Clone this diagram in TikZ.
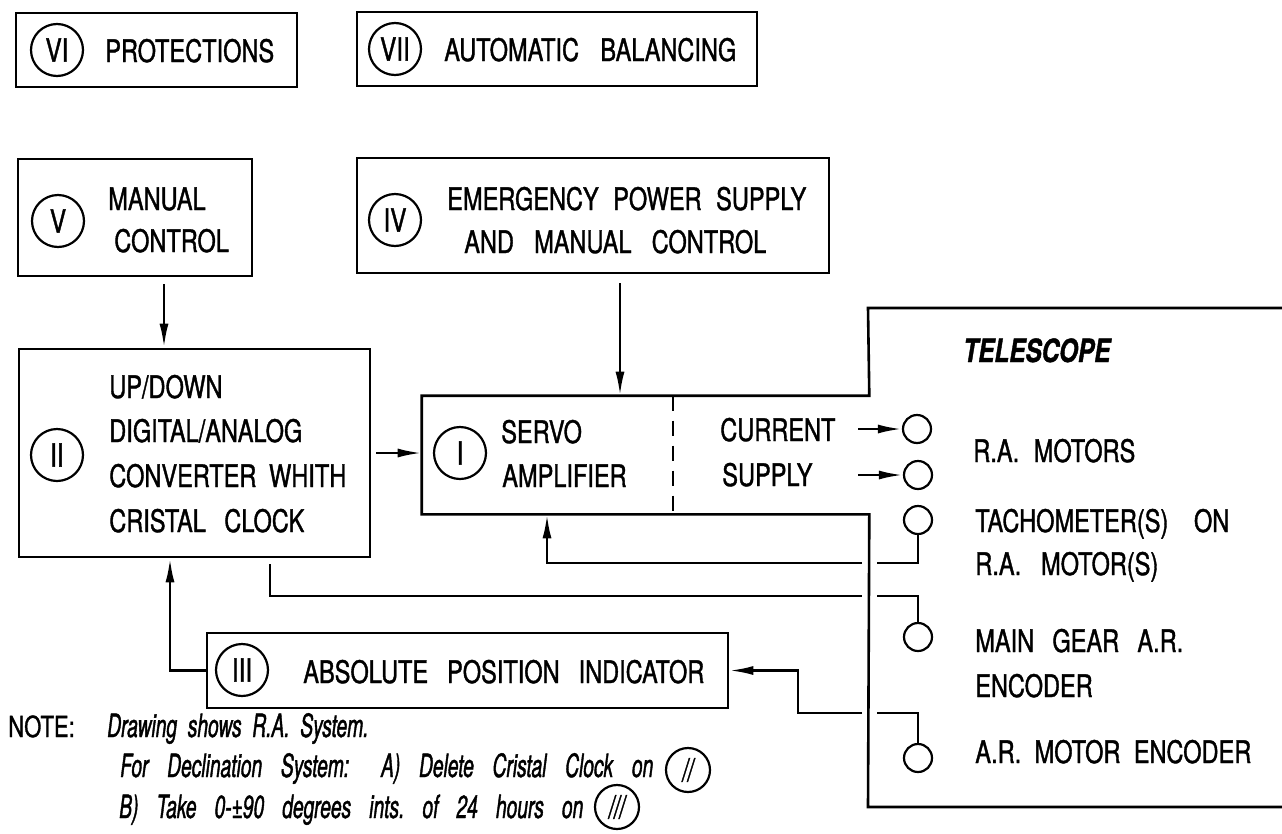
\documentclass[tikz,border=0pt]{standalone}
\usepackage{fontspec}
\setmainfont{TeX Gyre Heros}[FakeStretch=0.76,WordSpace=2.2,FakeBold=1.2]
\newfontfamily\notefont{TeX Gyre Heros}[FakeStretch=0.6,WordSpace=2.0,FakeBold=1.2]
\usetikzlibrary{arrows.meta,calc}
\frenchspacing
\begin{document}
\begin{tikzpicture}[x=1pt,y=-1pt,line width=2.6pt,
  box/.style={draw,line width=2.6pt,inner sep=0pt},
  ghost/.style={inner sep=0pt},
  numc/.style={draw,circle,minimum size=52pt,inner sep=0pt,line width=2.2pt,font=\fontsize{32}{34}\selectfont},
  notec/.style={draw,circle,minimum size=44pt,inner sep=0pt,line width=2.2pt,font=\fontsize{32}{34}\notefont\itshape},
  lbl/.style={anchor=base west,inner sep=0pt,font=\fontsize{31}{34}\selectfont},
  nlbl/.style={anchor=base west,inner sep=0pt,font=\fontsize{32}{34}\notefont\itshape},
  sc/.style={draw,circle,minimum size=28pt,inner sep=0pt,line width=2.2pt},
  arr/.style={-{Latex[length=24pt,width=9pt]}},
  wire/.style={line width=2.6pt},
  dashsep/.style={line width=2.4pt,dash pattern=on 15pt off 10pt}]
\useasboundingbox (0,0) rectangle (1282,833);

% ---- boxes
\node[box,minimum width=281pt,minimum height=74pt] (b6) at (156.5,50) {};
\node[box,minimum width=400pt,minimum height=74pt] (b7) at (557,49) {};
\node[box,minimum width=234pt,minimum height=117pt] (b5) at (135,217.5) {};
\node[box,minimum width=472pt,minimum height=115pt] (b4) at (593,215.5) {};
\node[box,minimum width=351pt,minimum height=208pt] (b2) at (194.5,453) {};
\node[box,minimum width=521pt,minimum height=75pt] (b3) at (467.5,670.5) {};
\node[ghost,minimum width=445pt,minimum height=116pt] (b1) at (645.5,455) {};

% telescope outline merged with box I
\coordinate (tTL) at (868,308);
\coordinate (tTR) at (1290,308);
\coordinate (tBL) at (868,807);
\coordinate (tBR) at (1290,807);
\draw[wire] (tTR) -- (tTL) -- (b1.north east) -- (b1.north west) -- (b1.south west) -- (b1.south east) -- (tBL) -- (tBR);
\coordinate (dl) at (673,0);
\draw[dashsep] (b1.north -| dl) -- (b1.south -| dl);

% ---- numbered circles
\node[numc] (c6) at (57,50) {VI};
\node[numc] (c7) at (395,49) {VII};
\node[numc] (c5) at (58,221) {V};
\node[numc] (c4) at (395,220) {IV};
\node[numc] (c2) at (57,455) {II};
\node[numc] (c1) at (460,453) {I};
\node[numc] (c3) at (242,670) {III};

% ---- texts
\node[lbl] (t6) at (104,62) {PROTECTIONS};
\node[lbl] (t7) at (443,61) {\makebox[292pt][s]{AUTOMATIC BALANCING}};
\node[lbl] (t5a) at (107,210) {MANUAL};
\node[lbl] (t5b) at (113,252) {CONTROL};
\node[lbl] (t4a) at (446,210) {\makebox[359pt][s]{EMERGENCY POWER SUPPLY}};
\node[lbl] (t4b) at (463,253) {\makebox[302pt][s]{AND MANUAL CONTROL}};
\node[lbl] (t2a) at (108,398) {UP/DOWN};
\node[lbl] (t2b) at (108,442) {DIGITAL/ANALOG};
\node[lbl] (t2c) at (108,487) {\makebox[237pt][s]{CONVERTER WHITH}};
\node[lbl] (t2d) at (108,532) {\makebox[195pt][s]{CRISTAL CLOCK}};
\node[lbl] (t1a) at (500,443) {SERVO};
\node[lbl] (t1b) at (501,487) {AMPLIFIER};
\node[lbl] (t1c) at (719,441) {CURRENT};
\node[lbl] (t1d) at (721,486) {SUPPLY};
\node[lbl,font=\fontsize{32}{34}\selectfont\bfseries\itshape] (tt) at (962,362) {TELESCOPE};
\node[lbl] (r1) at (972,462) {\makebox[162pt][s]{R.A. MOTORS}};
\node[lbl] (r2) at (974,532) {\makebox[254pt][s]{TACHOMETER(S) ON}};
\node[lbl] (r3) at (974,575) {\makebox[183pt][s]{R.A. MOTOR(S)}};
\node[lbl] (r4) at (974,652) {\makebox[208pt][s]{MAIN GEAR A.R.}};
\node[lbl] (r5) at (974,697) {ENCODER};
\node[lbl] (r6) at (974,763) {\makebox[276pt][s]{A.R. MOTOR ENCODER}};
\node[lbl] (t3) at (302,683) {\makebox[401pt][s]{ABSOLUTE POSITION INDICATOR}};

% ---- note
\node[lbl,font=\fontsize{29}{30}\selectfont] (n0) at (7,737) {NOTE:};
\node[nlbl] (n1) at (106,737) {Drawing shows R.A. System.};
\node[nlbl] (n2) at (119,777) {\makebox[533pt][s]{For Declination System:\quad A) Delete Cristal Clock on}};
\node[notec] (nc2) at (688,770) {//};
\node[nlbl] (n3) at (118,818) {\makebox[464pt][s]{B) Take 0-±90 degrees ints. of 24 hours on}};
\node[notec] (nc3) at (617,807) {///};

% ---- telescope small circles
\node[sc] (s1) at (917,429) {};
\node[sc] (s2) at (918,475) {};
\node[sc] (s3) at (918,520) {};
\node[sc] (s4) at (918,637) {};
\node[sc] (s5) at (918,758) {};

% ---- connectors
\coordinate (a5) at (164,0);
\draw[wire,arr] ($(b5.south -| a5)+(0,7)$) -- (b2.north -| a5);
\coordinate (a4) at (620,0);
\draw[wire,arr] ($(b4.south -| a4)+(0,9)$) -- (b1.north -| a4);
\coordinate (a2) at (0,453);
\draw[wire,arr] ($(b2.east |- a2)+(5,0)$) -- (b1.west |- a2);
\coordinate (ca) at (858,0);
\draw[wire,arr] (s1.west -| ca) -- (s1.west);
\draw[wire,arr] (s2.west -| ca) -- (s2.west);

% tachometer feedback to servo amplifier
\coordinate (g1) at (877,563);
\coordinate (g2) at (862,563);
\coordinate (k1) at (547,563);
\draw[wire] (s3.south) -- (s3.south |- g1) -- (g1);
\draw[wire,arr] (g2) -- (k1) -- (b1.south -| k1);

% main gear encoder to converter
\coordinate (m1) at (270,596);
\coordinate (m2) at (862,596);
\coordinate (m3) at (877,596);
\draw[wire] ($(b2.south -| m1)+(0,6)$) -- (m1) -- (m2);
\draw[wire] (m3) -- (m3 -| s4) -- (s4.north);

% motor encoder to absolute position indicator
\coordinate (e1) at (877,713);
\coordinate (e2) at (862,713);
\coordinate (e3) at (798,713);
\draw[wire] (s5.north) -- (s5.north |- e1) -- (e1);
\draw[wire,arr] (e2) -- (e3) -- (e3 |- b3.east) -- (b3.east);

% absolute position indicator to converter
\coordinate (f1) at (170,0);
\draw[wire,arr] (b3.west) -- (b3.west -| f1) -- (b2.south -| f1);
\end{tikzpicture}
\end{document}
